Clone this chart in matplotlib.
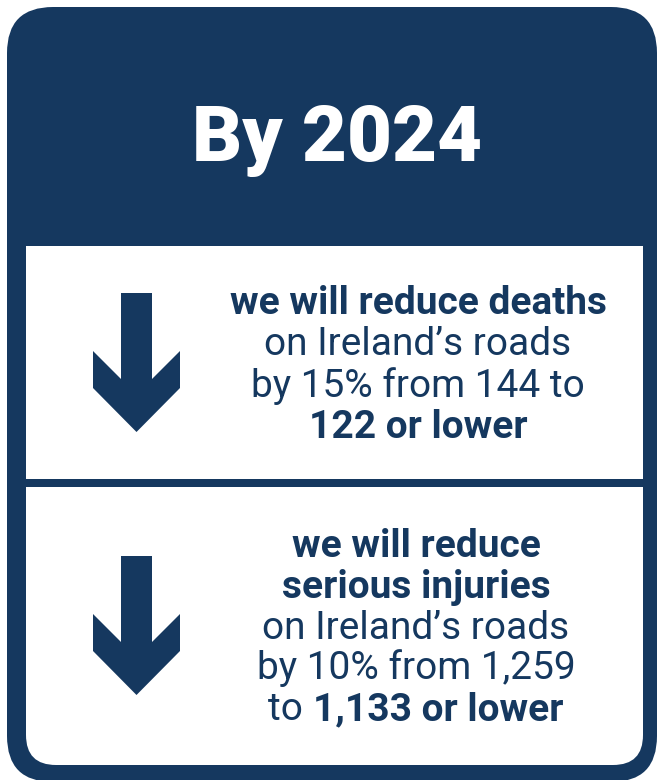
import matplotlib
matplotlib.use("Agg")
import matplotlib.pyplot as plt
from matplotlib.patches import FancyBboxPatch, Rectangle, Polygon

NAVY = "#15385f"
FONT = "Roboto"

title = "By 2024"

# each line is a list of (text, bold?) pieces
deaths_lines = [
    [("we will reduce deaths", True)],
    [("on Ireland\u2019s roads", False)],
    [("by 15% from 144 to", False)],
    [("122 or lower", True)],
]
injury_lines = [
    [("we will reduce", True)],
    [("serious injuries", True)],
    [("on Ireland\u2019s roads", False)],
    [("by 10% from 1,259", False)],
    [("to ", False), ("1,133 or lower", True)],
]

W, H = 657, 780
fig = plt.figure(figsize=(W / 100, H / 100), dpi=100)
ax = fig.add_axes([0, 0, 1, 1])
ax.set_xlim(0, W)
ax.set_ylim(H, 0)
ax.axis("off")

# outer navy card
ax.add_patch(FancyBboxPatch((7, 7), 650, 775, boxstyle="round,pad=0,rounding_size=46",
                            fc=NAVY, ec="none"))
# top white panel
ax.add_patch(Rectangle((26, 246), 617, 233, fc="white", ec="none"))
# bottom white panel, rounded bottom corners
ax.add_patch(FancyBboxPatch((26, 487), 617, 278, boxstyle="round,pad=0,rounding_size=30",
                            fc="white", ec="none"))
ax.add_patch(Rectangle((26, 487), 617, 60, fc="white", ec="none"))


def arrow(top):
    pts = [(121, 0), (152, 0), (152, 86), (180, 58), (180, 95), (136.5, 139),
           (93, 95), (93, 58), (121, 86)]
    ax.add_patch(Polygon([(x, top + y) for x, y in pts], closed=True, fc=NAVY, ec="none"))


arrow(293)
arrow(556)

ax.text(337, 161, title, color="white", fontsize=56, fontweight="heavy",
        family=FONT, ha="center", va="baseline")

renderer = fig.canvas.get_renderer()


def draw_line(cx, y, parts, size=28):
    texts = []
    for s, bold in parts:
        t = ax.text(0, y, s, color=NAVY, fontsize=size, family=FONT,
                    fontweight="bold" if bold else "normal", ha="left", va="baseline")
        texts.append(t)
    widths = [t.get_window_extent(renderer).width for t in texts]
    x = cx - sum(widths) / 2
    for t, w in zip(texts, widths):
        t.set_x(x)
        x += w


for i, parts in enumerate(deaths_lines):
    draw_line(418, 314 + i * 41.3, parts)
for i, parts in enumerate(injury_lines):
    draw_line(416, 557 + i * 40.8, parts)

fig.savefig("out.png", dpi=100)
